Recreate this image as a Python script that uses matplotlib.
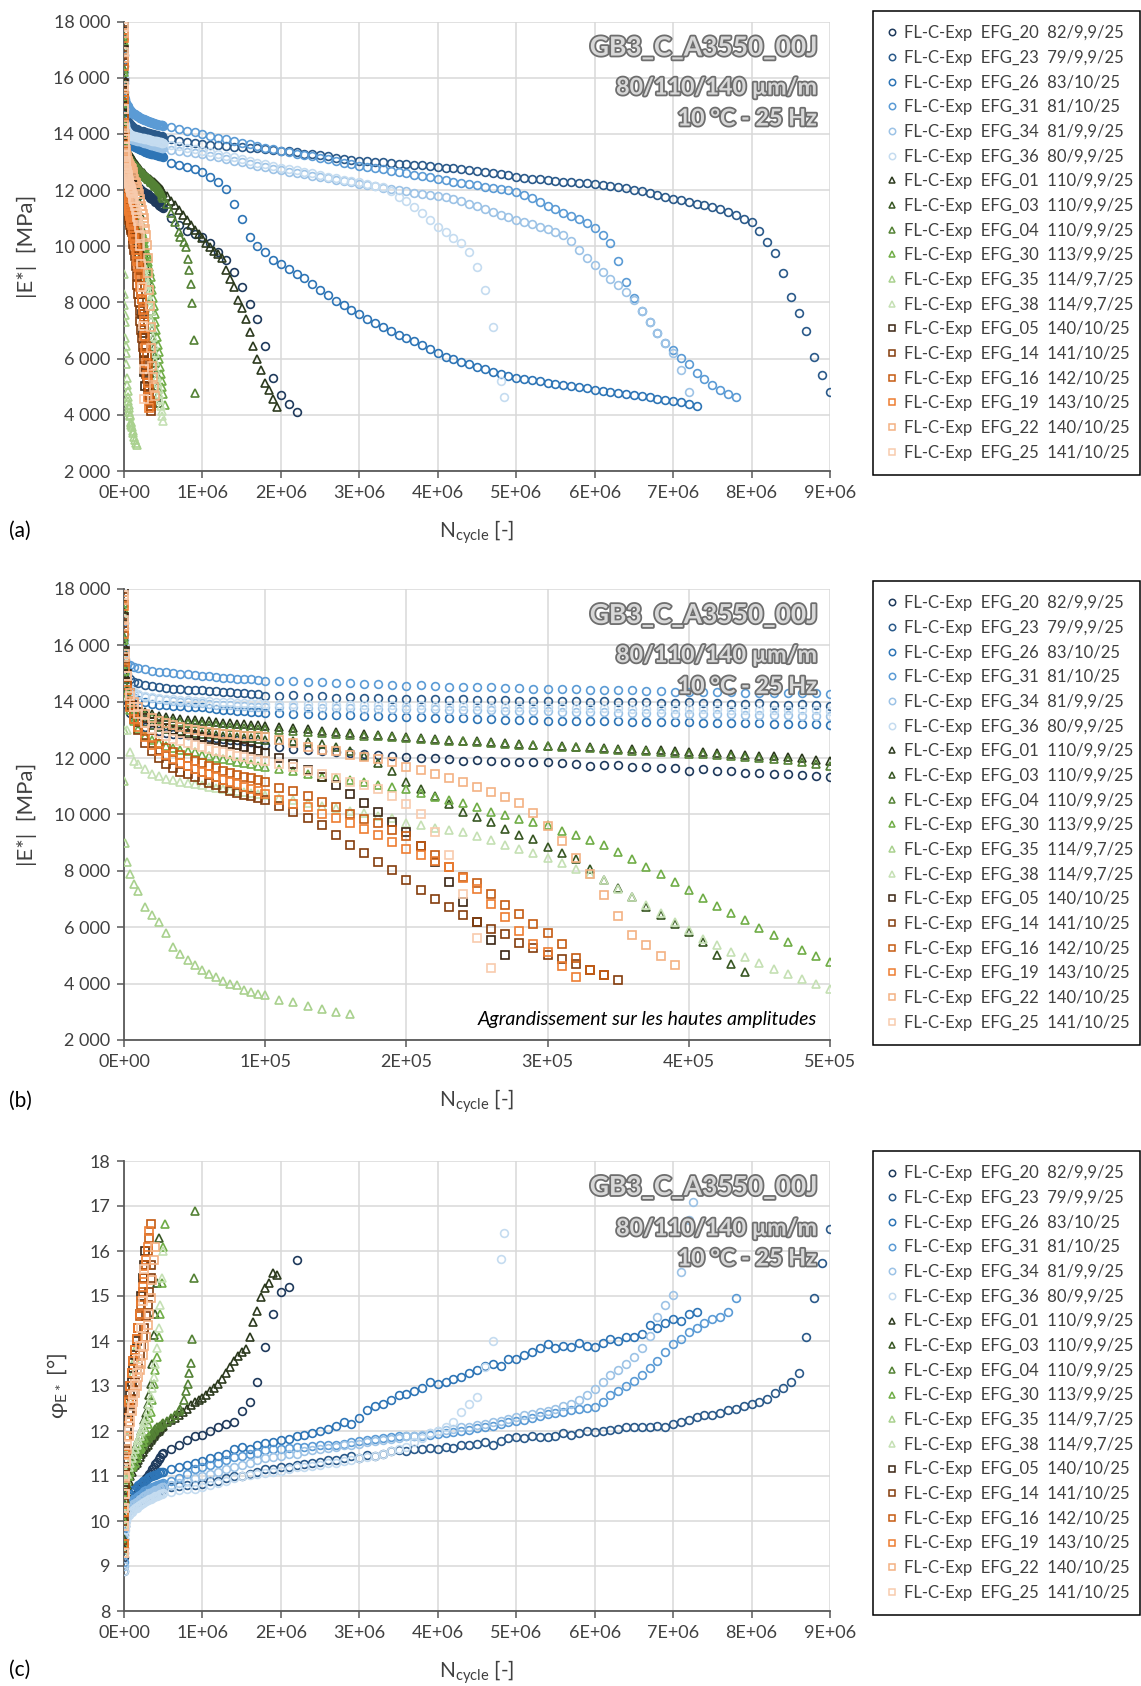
import sys
import matplotlib
matplotlib.use("Agg")
import matplotlib.pyplot as plt
import matplotlib.patheffects as pe
from matplotlib.lines import Line2D
from matplotlib.ticker import FuncFormatter, MultipleLocator

plt.rcParams['font.family'] = ['Lato', 'DejaVu Sans']
plt.rcParams['mathtext.fontset'] = 'custom'
plt.rcParams['mathtext.rm'] = 'Lato'
plt.rcParams['mathtext.it'] = 'Lato:italic'
plt.rcParams['mathtext.bf'] = 'Lato:bold'

# ---------------------------------------------------------------- grids (kilocycles)
N_EARLY = [0.1, 0.3, 1, 2, 4, 7, 10, 15, 20, 25, 30, 35, 40, 45, 50, 55, 60, 65, 70, 75, 80, 85, 90, 95, 100]
N_MID = [110, 120, 130, 140, 150, 160, 170, 180, 190, 200, 210, 220, 230, 240, 250, 260, 270, 280, 290, 300,
         310, 320, 330, 340, 350, 360, 370, 380, 390, 400, 410, 420, 430, 440, 450, 460, 470, 480, 490, 500]
N_LONG = [600, 700, 800, 900, 1000, 1100, 1200, 1300, 1400, 1500, 1600, 1700, 1800, 1900, 2000,
          2100, 2200, 2300, 2400, 2500, 2600, 2700, 2800, 2900, 3000, 3100, 3200, 3300, 3400, 3500,
          3600, 3700, 3800, 3900, 4000, 4100, 4200, 4300, 4400, 4500, 4600, 4700, 4800, 4900, 5000,
          5100, 5200, 5300, 5400, 5500, 5600, 5700, 5800, 5900, 6000, 6100, 6200, 6300, 6400, 6500,
          6600, 6700, 6800, 6900, 7000, 7100, 7200, 7300, 7400, 7500, 7600, 7700, 7800, 7900, 8000,
          8100, 8200, 8300, 8400, 8500, 8600, 8700, 8800, 8900, 9000]
N_TRI_LONG = [550, 600, 650, 700, 750, 800, 850, 900, 950, 1000, 1050, 1100, 1150, 1200, 1250, 1300,
              1350, 1400, 1450, 1500, 1550, 1600, 1650, 1700, 1750, 1800, 1850, 1900, 1950]
N_TAIL_04 = [550, 600, 650, 700, 720, 760, 790, 820, 830, 850, 870, 890, 910]
P_EARLY = [0.1, 1, 3, 7, 15, 25, 40, 60, 80, 100]
P_MID = [120, 140, 160, 180, 200, 220, 240, 260, 280, 300, 320, 340, 360, 380, 400, 420, 440, 460, 480, 500]


def upto(seq, last):
    return [v for v in seq if v <= last]


# ---------------------------------------------------------------- |E*| values (MPa)
E_20 = [16000, 15000, 14300, 13900, 13600, 13400, 13250, 13100, 13000, 12950, 12900, 12870, 12840, 12810, 12790,
        12760, 12740, 12710, 12690, 12660, 12630, 12600, 12560, 12520, 12450,
        12390, 12340, 12300, 12260, 12230, 12190, 12150, 12120, 12090, 12050, 12020, 12000, 11970, 11910, 11930,
        11900, 11880, 11870, 11860, 11850, 11820, 11800, 11730, 11760, 11740, 11680, 11700, 11660, 11640, 11560,
        11600, 11560, 11530, 11460, 11480, 11450, 11430, 11400, 11380, 11345,
        11000, 10750, 10560, 10430, 10320, 10100, 9800, 9520, 9100, 8550, 7950, 7400, 6440, 5320, 4700, 4380, 4100]
E_23 = [16400, 15900, 15300, 15000, 14800, 14700, 14650, 14600, 14560, 14520, 14500, 14470, 14450, 14430, 14410,
        14400, 14380, 14370, 14350, 14330, 14320, 14300, 14280, 14260, 14220,
        14200, 14230, 14180, 14190, 14150, 14160, 14120, 14140, 14100, 14090, 14110, 14080, 14070, 14090, 14060,
        14050, 14070, 14040, 14030, 14035, 14020, 14040, 14000, 14010, 13990, 13980, 14000, 13970, 13960, 13976,
        13950, 13960, 13930, 13920, 13940, 13900, 13890, 13910, 13880, 13860,
        13800, 13750, 13700, 13680, 13640, 13620, 13600, 13570, 13550, 13530, 13500, 13480, 13450, 13430, 13400,
        13380, 13350, 13300, 13280, 13250, 13200, 13150, 13120, 13080, 13050, 13030, 13000, 12990, 12960, 12940,
        12920, 12900, 12880, 12850, 12820, 12800, 12770, 12750, 12720, 12690, 12650, 12600, 12570, 12520, 12480,
        12440, 12400, 12380, 12350, 12330, 12300, 12280, 12260, 12240, 12210, 12180, 12140, 12100, 12060, 12020,
        11960, 11900, 11820, 11760, 11690, 11640, 11580, 11520, 11460, 11390, 11310, 11220, 11110, 10960, 10850,
        10550, 10150, 9750, 9050, 8200, 7620, 7000, 6050, 5400, 4810]
E_26 = [16800, 15800, 15000, 14600, 14300, 14150, 14050, 13980, 13930, 13900, 13870, 13850, 13840, 13820, 13810,
        13800, 13770, 13750, 13720, 13700, 13680, 13660, 13640, 13620, 13600,
        13590, 13570, 13560, 13540, 13530, 13520, 13500, 13490, 13470, 13445, 13450, 13430, 13420, 13410, 13400,
        13380, 13370, 13360, 13350, 13330, 13330, 13320, 13310, 13310, 13300, 13290, 13290, 13280, 13270, 13270,
        13260, 13260, 13250, 13240, 13230, 13220, 13220, 13210, 13200, 13190,
        12950, 12900, 12830, 12740, 12630, 12480, 12280, 12040, 11510, 10970, 10320, 10000, 9780, 9520, 9360,
        9180, 9020, 8870, 8650, 8450, 8260, 8060, 7900, 7730, 7580, 7420, 7270, 7130, 6980, 6850,
        6720, 6610, 6480, 6340, 6200, 6050, 5970, 5890, 5800, 5710, 5620, 5530, 5450, 5380, 5320,
        5280, 5230, 5190, 5150, 5110, 5060, 5020, 4980, 4940, 4900, 4860, 4820, 4790, 4750, 4710,
        4660, 4620, 4580, 4540, 4490, 4440, 4380, 4300]
E_31 = [16600, 15900, 15500, 15350, 15300, 15250, 15200, 15150, 15100, 15070, 15040, 15020, 15000, 14980, 14960,
        14930, 14900, 14880, 14860, 14840, 14820, 14800, 14790, 14770, 14750,
        14730, 14720, 14700, 14690, 14670, 14650, 14640, 14620, 14600, 14560, 14580, 14560, 14540, 14530, 14520,
        14510, 14500, 14490, 14470, 14450, 14450, 14440, 14430, 14420, 14410, 14400, 14390, 14380, 14360, 14340,
        14350, 14340, 14330, 14320, 14320, 14310, 14310, 14300, 14300, 14290,
        14230, 14170, 14110, 14050, 14000, 13930, 13870, 13810, 13740, 13690, 13630, 13570, 13510, 13450, 13400,
        13350, 13300, 13250, 13200, 13150, 13100, 13040, 12980, 12920, 12870, 12820, 12780, 12740, 12690, 12640,
        12590, 12550, 12500, 12450, 12400, 12350, 12300, 12260, 12210, 12170, 12120, 12080, 12030, 11990, 11930,
        11820, 11700, 11560, 11430, 11310, 11200, 11080, 10970, 10820, 10650, 10400, 10100, 9490, 8720, 8150,
        7680, 7300, 6900, 6560, 6290, 6040, 5800, 5500, 5260, 5060, 4890, 4740, 4630]
E_34 = [16200, 15500, 14900, 14600, 14400, 14300, 14230, 14170, 14120, 14080, 14050, 14020, 14000, 13980, 13960,
        13940, 13920, 13900, 13890, 13870, 13860, 13850, 13830, 13820, 13810,
        13800, 13800, 13790, 13780, 13780, 13770, 13760, 13760, 13750, 13740, 13740, 13730, 13720, 13710, 13700,
        13690, 13680, 13680, 13670, 13660, 13650, 13640, 13630, 13620, 13610, 13600, 13600, 13590, 13580, 13570,
        13560, 13560, 13550, 13540, 13530, 13530, 13520, 13510, 13510, 13500,
        13440, 13400, 13360, 13320, 13290, 13230, 13170, 13110, 13050, 12990, 12930, 12870, 12810, 12760, 12700,
        12650, 12600, 12560, 12510, 12460, 12420, 12370, 12320, 12270, 12220, 12180, 12130, 12080, 12040, 11990,
        11950, 11900, 11860, 11830, 11790, 11750, 11680, 11600, 11520, 11430, 11330, 11220, 11120, 11030, 10950,
        10870, 10790, 10700, 10600, 10500, 10400, 10200, 9850, 9580, 9330, 9080, 8830, 8610, 8370, 8070,
        7700, 7300, 6920, 6560, 6200, 5600, 4800]
E_36 = [16000, 15400, 14900, 14600, 14450, 14350, 14280, 14220, 14180, 14140, 14110, 14090, 14070, 14050, 14040,
        14020, 14010, 14000, 13990, 13980, 13970, 13960, 13950, 13940, 13930,
        13920, 13920, 13910, 13910, 13900, 13900, 13890, 13880, 13880, 13860, 13870, 13860, 13850, 13850, 13840,
        13830, 13830, 13820, 13810, 13800, 13800, 13790, 13780, 13780, 13770, 13760, 13760, 13750, 13740, 13740,
        13730, 13730, 13720, 13710, 13710, 13700, 13700, 13690, 13690, 13680,
        13620, 13560, 13500, 13450, 13400, 13340, 13280, 13220, 13160, 13100, 13040, 12980, 12920, 12860, 12800,
        12750, 12700, 12640, 12590, 12530, 12480, 12420, 12370, 12320, 12270, 12210, 12160, 12100, 11950, 11740,
        11600, 11400, 11170, 10920, 10680, 10500, 10280, 10100, 9780, 9250, 8430, 7120, 5220,
        4650]
E_01 = [17200, 16000, 15000, 14400, 14000, 13800, 13700, 13620, 13560, 13510, 13470, 13430, 13400, 13370, 13350,
        13320, 13300, 13280, 13260, 13240, 13220, 13200, 13180, 13160, 13140,
        13100, 13060, 13020, 12980, 12940, 12900, 12860, 12820, 12780, 12740, 12700, 12680, 12650, 12620, 12600,
        12570, 12540, 12510, 12470, 12440, 12440, 12410, 12400, 12370, 12330, 12330, 12300, 12280, 12250, 12210,
        12200, 12180, 12150, 12120, 12090, 12060, 12030, 11990, 11950, 11910,
        11780, 11620, 11460, 11280, 11100, 10920, 10740, 10580, 10440, 10300, 10120, 9980, 9830, 9720, 9580,
        9150, 8850, 8550, 8100, 7800, 7400, 6950, 6450, 5980, 5580, 5150, 4880, 4550, 4280]
E_03 = [17000, 15800, 14800, 14200, 13800, 13550, 13400, 13270, 13180, 13110, 13050, 13000, 12960, 12930, 12900,
        12870, 12840, 12810, 12790, 12760, 12740, 12720, 12700, 12680, 12660,
        12630, 12600, 12570, 12510, 12390, 12270, 12060, 11820, 11560, 11145, 10900, 10670, 10380, 10080, 9900,
        9730, 9490, 9255, 9115, 8840, 8640, 8430, 8075, 7690, 7380, 7070, 6720, 6425, 6130, 5835,
        5480, 5030, 4710, 4420]
E_04 = [17500, 16300, 15200, 14500, 14000, 13750, 13620, 13520, 13450, 13400, 13360, 13320, 13290, 13260, 13230,
        13200, 13180, 13160, 13140, 13120, 13100, 13080, 13060, 13040, 13020,
        12990, 12950, 12920, 12890, 12860, 12830, 12800, 12770, 12740, 12710, 12680, 12650, 12620, 12600, 12570,
        12540, 12510, 12480, 12460, 12430, 12400, 12380, 12350, 12320, 12300, 12270, 12250, 12220, 12190, 12160,
        12130, 12100, 12070, 12030, 12000, 11960, 11920, 11870, 11800, 11734,
        11500, 11200, 10850, 10500, 10320, 10150, 9970, 9550, 9140, 8640, 7990, 6650, 4780]
E_30 = [17300, 16200, 15100, 14300, 13700, 13300, 13050, 12800, 12650, 12530, 12440, 12370, 12300, 12250, 12200,
        12100, 12060, 12010, 11970, 11930, 11880, 11830, 11780, 11730, 11680,
        11620, 11560, 11440, 11330, 11300, 11220, 11140, 11060, 10980, 10900, 10750, 10613, 10520, 10400, 10250,
        10106, 9980, 9847, 9730, 9611, 9430, 9257, 9080, 8903, 8670, 8431, 8150, 7876, 7590, 7310,
        7030, 6755, 6500, 6250, 5980, 5717, 5460, 5210, 4980, 4750,
        4350]
E_35 = [13000, 11200, 9000, 8300, 7900, 7540, 7300, 6720, 6450, 6200, 5800, 5300, 5050, 4850, 4650,
        4500, 4350, 4230, 4110, 4000, 3940, 3760, 3700, 3640, 3580,
        3430, 3340, 3220, 3110, 2990, 2930]
E_38 = [17000, 15500, 14000, 13000, 12200, 11900, 11800, 11620, 11440, 11350, 11270, 11220, 11170, 11120, 11080,
        11030, 10990, 10950, 10910, 10870, 10830, 10800, 10760, 10720, 10680,
        10590, 10500, 10400, 10310, 10220, 10130, 10040, 9950, 9860, 9693, 9620, 9530, 9450, 9375, 9230,
        9080, 8930, 8785, 8620, 8454, 8270, 8077, 7880, 7680, 7370, 7080, 6779, 6500, 6200, 5900,
        5599, 5360, 5127, 4930, 4738, 4530, 4325, 4150, 3970, 3793]
E_05 = [17900, 17000, 15800, 15000, 14300, 13900, 13650, 13420, 13280, 13170, 13080, 13000, 12930, 12870, 12810,
        12750, 12690, 12630, 12570, 12510, 12450, 12390, 12330, 12260, 12190,
        12000, 11780, 11590, 11320, 11050, 10730, 10420, 10090, 9730, 9380, 8870, 8300, 7605, 6897, 6190,
        5540, 5010]
E_14 = [17700, 16800, 15500, 14600, 13900, 13400, 13000, 12550, 12250, 12000, 11800, 11650, 11520, 11440, 11330,
        11230, 11130, 11030, 10940, 10850, 10770, 10700, 10640, 10580, 10520,
        10290, 10090, 9870, 9640, 9280, 8930, 8630, 8310, 8020, 7690, 7330, 7010, 6720, 6425, 6190,
        5953, 5752, 5457, 5268, 5032, 4890, 4713, 4500, 4300, 4123]
E_16 = [17600, 16600, 15400, 14600, 14000, 13600, 13300, 12950, 12700, 12500, 12350, 12220, 12100, 12000, 11900,
        11810, 11720, 11640, 11560, 11480, 11410, 11340, 11280, 11210, 11150,
        10940, 10820, 10640, 10440, 10260, 10000, 9850, 9705, 9457, 9221, 8867, 8548, 8135, 7781, 7581,
        7191, 6802, 6460, 6130, 5799, 5421, 4914, 4501, 4300]
E_19 = [17400, 16400, 15200, 14400, 13800, 13400, 13100, 12750, 12480, 12270, 12100, 11960, 11830, 11720, 11620,
        11520, 11420, 11330, 11240, 11150, 11070, 10990, 10900, 10820, 10740,
        10520, 10380, 10260, 10030, 9870, 9710, 9480, 9256, 9020, 8784, 8548, 8340, 8135, 7740, 7345,
        6814, 6365, 5858, 5421, 5126, 4631, 4241]
E_22 = [17600, 16700, 15600, 14900, 14300, 14000, 13800, 13580, 13430, 13320, 13230, 13160, 13100, 13050, 13000,
        12960, 12920, 12890, 12860, 12840, 12820, 12800, 12780, 12770, 12750,
        12630, 12530, 12400, 12300, 12250, 12100, 12035, 11975, 11860, 11675, 11581, 11440, 11286, 11144, 10991,
        10814, 10613, 10401, 10059, 9587, 9044, 8454, 7876, 7132, 6389, 5740, 5362, 4973, 4678]
E_25 = [17800, 16900, 15700, 14900, 14200, 13800, 13550, 13250, 13050, 12900, 12780, 12680, 12600, 12520, 12450,
        12380, 12320, 12260, 12200, 12140, 12080, 12030, 11980, 11940, 11900,
        11800, 11680, 11560, 11430, 11300, 11170, 11040, 10900, 10672, 10377, 10000, 9374, 8548, 7168, 5622,
        4560]

# ---------------------------------------------------------------- phase angle values (deg)
P_20 = [9.2, 9.6, 9.8, 9.95, 10.05, 10.15, 10.25, 10.32, 10.4, 10.45,
        10.5, 10.55, 10.6, 10.65, 10.72, 10.78, 10.85, 10.9, 10.95, 11.0, 11.05, 11.1, 11.15, 11.2, 11.27,
        11.32, 11.38, 11.42, 11.48, 11.52,
        11.6, 11.7, 11.8, 11.88, 11.92, 12.0, 12.08, 12.15, 12.2, 12.45, 12.65, 13.1, 13.87, 14.6, 15.1, 15.21, 15.81]
P_23 = [8.9, 9.4, 9.7, 9.9, 10.0, 10.1, 10.2, 10.25, 10.3, 10.35,
        10.38, 10.4, 10.42, 10.45, 10.47, 10.5, 10.5, 10.52, 10.55, 10.57, 10.58, 10.6, 10.6, 10.62, 10.65,
        10.65, 10.67, 10.7, 10.7, 10.72,
        10.75, 10.78, 10.8, 10.8, 10.82, 10.9, 10.9, 10.95, 11.0, 11.0, 11.05, 11.1, 11.15, 11.15, 11.2,
        11.2, 11.25, 11.27, 11.3, 11.32, 11.35, 11.35, 11.4, 11.45, 11.4, 11.46, 11.45, 11.5, 11.55, 11.58,
        11.55, 11.6, 11.6, 11.62, 11.6, 11.65, 11.63, 11.7, 11.68, 11.72, 11.75, 11.7, 11.78, 11.85, 11.86,
        11.85, 11.9, 11.87, 11.87, 11.88, 11.95, 11.92, 11.95, 12.0, 11.97, 12.0, 12.02, 12.05, 12.08, 12.08,
        12.1, 12.1, 12.12, 12.1, 12.16, 12.2, 12.25, 12.31, 12.35, 12.35, 12.4, 12.47, 12.5, 12.55, 12.6,
        12.65, 12.72, 12.85, 12.95, 13.1, 13.3, 14.09, 14.96, 15.74, 16.5]
P_26 = [9.3, 9.8, 10.05, 10.2, 10.3, 10.4, 10.5, 10.55, 10.6, 10.65,
        10.7, 10.72, 10.75, 10.8, 10.82, 10.85, 10.88, 10.9, 10.92, 10.95, 10.97, 11.0, 11.0, 11.02, 11.03,
        11.05, 11.07, 11.08, 11.1, 11.1,
        11.15, 11.2, 11.25, 11.3, 11.34, 11.4, 11.45, 11.5, 11.6, 11.65, 11.6, 11.7, 11.73, 11.75, 11.8,
        11.82, 11.89, 11.92, 11.95, 12.0, 12.05, 12.12, 12.2, 12.15, 12.3, 12.47, 12.55, 12.6, 12.7, 12.8,
        12.83, 12.9, 12.95, 13.09, 13.05, 13.1, 13.15, 13.2, 13.3, 13.35, 13.45, 13.5, 13.45, 13.6, 13.6,
        13.7, 13.75, 13.85, 13.94, 13.85, 13.9, 13.86, 13.95, 13.9, 13.86, 13.95, 14.05, 14.0, 14.08, 14.09,
        14.15, 14.35, 14.3, 14.4, 14.5, 14.45, 14.6, 14.64]
P_31 = [9.1, 9.6, 9.85, 10.0, 10.1, 10.2, 10.28, 10.34, 10.4, 10.45,
        10.48, 10.5, 10.53, 10.56, 10.58, 10.6, 10.63, 10.66, 10.68, 10.7, 10.72, 10.73, 10.75, 10.76, 10.78,
        10.8, 10.8, 10.82, 10.83, 10.85,
        10.9, 10.95, 11.05, 11.15, 11.19, 11.25, 11.3, 11.35, 11.42, 11.45, 11.5, 11.52, 11.58, 11.6, 11.6,
        11.63, 11.65, 11.65, 11.67, 11.68, 11.7, 11.69, 11.72, 11.75, 11.78, 11.81, 11.83, 11.85, 11.87, 11.89,
        11.88, 11.9, 11.9, 11.92, 11.93, 11.95, 11.98, 12.0, 12.03, 12.06, 12.08, 12.12, 12.15, 12.2, 12.23,
        12.25, 12.28, 12.33, 12.38, 12.4, 12.43, 12.47, 12.5, 12.52, 12.53, 12.65, 12.8, 12.9, 13.0, 13.12,
        13.25, 13.4, 13.55, 13.75, 13.94, 14.05, 14.2, 14.3, 14.4, 14.48, 14.53, 14.65, 14.96]
P_34 = [9.0, 9.5, 9.75, 9.9, 10.0, 10.1, 10.18, 10.25, 10.3, 10.34,
        10.37, 10.4, 10.43, 10.45, 10.48, 10.5, 10.53, 10.55, 10.57, 10.6, 10.62, 10.63, 10.65, 10.67, 10.68,
        10.7, 10.72, 10.73, 10.75, 10.76,
        10.8, 10.85, 10.9, 10.95, 11.0, 11.05, 11.1, 11.15, 11.2, 11.25, 11.3, 11.35, 11.4, 11.42, 11.45,
        11.48, 11.5, 11.55, 11.58, 11.6, 11.63, 11.65, 11.68, 11.7, 11.72, 11.75, 11.78, 11.8, 11.82, 11.85,
        11.88, 11.9, 11.92, 11.95, 12.0, 12.02, 12.05, 12.08, 12.1, 12.13, 12.16, 12.2, 12.22, 12.27, 12.31,
        12.35, 12.38, 12.42, 12.45, 12.5, 12.55, 12.6, 12.7, 12.8, 12.94, 13.1, 13.25, 13.35, 13.5, 13.64,
        13.85, 14.12, 14.53, 14.8, 15.02, 15.54, 16.69,
        17.08]
P_36 = [8.9, 9.4, 9.65, 9.8, 9.9, 10.0, 10.08, 10.13, 10.18, 10.2,
        10.25, 10.28, 10.3, 10.33, 10.36, 10.38, 10.4, 10.42, 10.44, 10.46, 10.48, 10.5, 10.52, 10.53, 10.55,
        10.56, 10.58, 10.6, 10.6, 10.62,
        10.65, 10.7, 10.72, 10.72, 10.75, 10.8, 10.85, 10.9, 10.96, 11.0, 11.02, 11.05, 11.07, 11.1, 11.12,
        11.15, 11.19, 11.2, 11.22, 11.25, 11.28, 11.3, 11.33, 11.36, 11.4, 11.42, 11.45, 11.5, 11.55, 11.6,
        11.65, 11.75, 11.85, 11.95, 12.0, 12.1, 12.2, 12.42, 12.6, 12.75, 13.42, 14.01, 15.83,
        16.39]
P_01 = [9.4, 9.9, 10.1, 10.3, 10.5, 10.65, 10.8, 10.9, 11.0, 11.1,
        11.2, 11.25, 11.3, 11.36, 11.42, 11.48, 11.54, 11.6, 11.65, 11.7, 11.75, 11.8, 11.85, 11.89, 11.93,
        11.97, 12.0, 12.04, 12.08, 12.12,
        12.2, 12.24, 12.3, 12.35, 12.42, 12.5, 12.58, 12.65, 12.7, 12.74, 12.8, 12.89, 12.95, 13.05, 13.15,
        13.3, 13.43, 13.55, 13.67, 13.75, 13.82, 14.09, 14.42, 14.67, 14.98, 15.17, 15.29, 15.52, 15.46]
P_03 = [9.6, 10.1, 10.4, 10.6, 10.8, 10.95, 11.1, 11.2, 11.3, 11.4,
        11.55, 11.62, 11.7, 11.8, 11.89, 12.0, 12.1, 12.25, 12.4, 12.6, 12.8, 13.05, 13.5, 14.13, 14.6,
        15.3, 16.3]
P_04 = [9.5, 10.0, 10.3, 10.5, 10.7, 10.85, 11.0, 11.1, 11.2, 11.28,
        11.35, 11.42, 11.48, 11.55, 11.6, 11.65, 11.7, 11.75, 11.8, 11.84, 11.88, 11.92, 11.96, 12.0, 12.04,
        12.08, 12.1, 12.12, 12.15, 12.18,
        12.22, 12.28, 12.35, 12.45, 12.5, 12.7, 12.89, 13.05, 13.3, 13.51, 14.05, 15.41, 16.88]
P_30 = [9.5, 10.0, 10.3, 10.5, 10.65, 10.8, 10.9, 11.0, 11.1, 11.2,
        11.25, 11.3, 11.4, 11.5, 11.6, 11.65, 11.75, 11.85, 12.0, 12.15, 12.3, 12.43, 12.7, 13.05, 13.35,
        13.65, 14.1, 14.6, 15.3, 16.1,
        16.6]
P_35 = [9.3, 9.9, 10.3, 10.7, 11.1, 11.5, 11.9, 12.3, 12.7, 13.0,
        13.3, 13.6, 13.9]
P_38 = [9.3, 9.9, 10.2, 10.45, 10.7, 10.9, 11.05, 11.2, 11.3, 11.4,
        11.5, 11.6, 11.7, 11.8, 11.9, 12.0, 12.1, 12.2, 12.3, 12.45, 12.6, 12.75, 12.95, 13.2, 13.5,
        13.85, 14.3, 14.8, 15.4, 16.0]
P_05 = [9.3, 9.9, 10.3, 10.7, 11.2, 11.6, 12.0, 12.4, 12.8, 13.1,
        13.4, 13.7, 14.0, 14.3, 14.6, 15.0, 15.4, 15.7,
        16.0]
P_14 = [9.4, 10.0, 10.4, 10.8, 11.2, 11.55, 11.9, 12.2, 12.45, 12.7,
        12.9, 13.1, 13.3, 13.5, 13.7, 13.9, 14.1, 14.3, 14.55, 14.8, 15.1, 15.4,
        15.7]
P_16 = [9.5, 10.2, 10.6, 11.0, 11.5, 11.9, 12.3, 12.7, 13.0, 13.3,
        13.55, 13.8, 14.05, 14.3, 14.55, 14.8, 15.1, 15.4, 15.7, 16.0, 16.3, 16.6]
P_19 = [9.5, 10.2, 10.6, 11.0, 11.5, 11.9, 12.3, 12.65, 13.0, 13.3,
        13.55, 13.8, 14.05, 14.3, 14.6, 14.9, 15.2, 15.5, 15.8, 16.1, 16.45]
P_22 = [9.3, 9.9, 10.3, 10.6, 10.95, 11.3, 11.6, 11.9, 12.2, 12.45,
        12.65, 12.85, 13.0, 13.2, 13.35, 13.5, 13.7, 13.9, 14.1, 14.35, 14.6, 14.95, 15.35, 15.8,
        16.1]
P_25 = [9.3, 9.9, 10.3, 10.6, 11.0, 11.35, 11.7, 12.0, 12.3, 12.55,
        12.8, 13.05, 13.3, 13.6, 13.9, 14.3, 14.9, 15.6]

# ---------------------------------------------------------------- series definition
LABELS = ['FL-C-Exp  EFG_20  82/9,9/25', 'FL-C-Exp  EFG_23  79/9,9/25', 'FL-C-Exp  EFG_26  83/10/25',
          'FL-C-Exp  EFG_31  81/10/25', 'FL-C-Exp  EFG_34  81/9,9/25', 'FL-C-Exp  EFG_36  80/9,9/25',
          'FL-C-Exp  EFG_01  110/9,9/25', 'FL-C-Exp  EFG_03  110/9,9/25', 'FL-C-Exp  EFG_04  110/9,9/25',
          'FL-C-Exp  EFG_30  113/9,9/25', 'FL-C-Exp  EFG_35  114/9,7/25', 'FL-C-Exp  EFG_38  114/9,7/25',
          'FL-C-Exp  EFG_05  140/10/25', 'FL-C-Exp  EFG_14  141/10/25', 'FL-C-Exp  EFG_16  142/10/25',
          'FL-C-Exp  EFG_19  143/10/25', 'FL-C-Exp  EFG_22  140/10/25', 'FL-C-Exp  EFG_25  141/10/25']
MARKERS = ['o'] * 6 + ['^'] * 6 + ['s'] * 6
COLORS = ['#1F3A5C', '#2B5A8A', '#2E75B6', '#5B9BD5', '#9DC3E6', '#C5DCF0',
          '#2C3A1E', '#385723', '#548235', '#70AD47', '#A9D18E', '#C5E0B4',
          '#3A2412', '#843C0C', '#C55A11', '#ED7D31', '#F4B183', '#F8CBAD']

E_VALUES = [E_20, E_23, E_26, E_31, E_34, E_36, E_01, E_03, E_04, E_30, E_35, E_38,
            E_05, E_14, E_16, E_19, E_22, E_25]
E_CYCLES = [N_EARLY + N_MID + upto(N_LONG, 2200),
            N_EARLY + N_MID + N_LONG,
            N_EARLY + N_MID + upto(N_LONG, 7300),
            N_EARLY + N_MID + upto(N_LONG, 7800),
            N_EARLY + N_MID + upto(N_LONG, 7200),
            N_EARLY + N_MID + upto(N_LONG, 4800) + [4850],
            N_EARLY + N_MID + N_TRI_LONG,
            N_EARLY + upto(N_MID, 440),
            N_EARLY + N_MID + N_TAIL_04,
            N_EARLY + N_MID + [520],
            N_EARLY + upto(N_MID, 160),
            N_EARLY + N_MID,
            N_EARLY + upto(N_MID, 270),
            N_EARLY + upto(N_MID, 350),
            N_EARLY + upto(N_MID, 340),
            N_EARLY + upto(N_MID, 320),
            N_EARLY + upto(N_MID, 390),
            N_EARLY + upto(N_MID, 260)]
P_VALUES = [P_20, P_23, P_26, P_31, P_34, P_36, P_01, P_03, P_04, P_30, P_35, P_38,
            P_05, P_14, P_16, P_19, P_22, P_25]
P_CYCLES = [P_EARLY + P_MID + upto(N_LONG, 2200),
            P_EARLY + P_MID + N_LONG,
            P_EARLY + P_MID + upto(N_LONG, 7300),
            P_EARLY + P_MID + upto(N_LONG, 7800),
            P_EARLY + P_MID + upto(N_LONG, 7200) + [7250],
            P_EARLY + P_MID + upto(N_LONG, 4800) + [4850],
            P_EARLY + P_MID + N_TRI_LONG,
            P_EARLY + upto(P_MID, 440),
            P_EARLY + P_MID + N_TAIL_04,
            P_EARLY + P_MID + [520],
            P_EARLY + upto(P_MID, 160),
            P_EARLY + P_MID,
            P_EARLY + upto(P_MID, 260) + [270],
            P_EARLY + upto(P_MID, 340) + [350],
            P_EARLY + upto(P_MID, 340),
            P_EARLY + upto(P_MID, 320),
            P_EARLY + upto(P_MID, 380) + [390],
            P_EARLY + upto(P_MID, 260)]


def paired(cyc_k, vals, tag):
    m = min(len(cyc_k), len(vals))
    if len(cyc_k) != len(vals):
        print(f"length mismatch {tag}: {len(cyc_k)} vs {len(vals)}", file=sys.stderr)
    return [c * 1000.0 for c in cyc_k[:m]], vals[:m]


# ---------------------------------------------------------------- figure
W, H = 1141, 1686
fig = plt.figure(figsize=(W / 100, H / 100), dpi=100)

AX_L, AX_R = 124, 830
PANELS = [(21.5, 471), (589, 1040), (1161, 1611)]
LEG = [(11, 473), (581, 1043), (1151, 1613)]
LEG_L, LEG_R = 873, 1140

TXT = '#404040'
AXC = '#595959'


def make_ax(top, bot):
    return fig.add_axes([AX_L / W, 1 - bot / H, (AX_R - AX_L) / W, (bot - top) / H])


def style(ax):
    for s in ['top', 'right']:
        ax.spines[s].set_visible(False)
    for s in ['left', 'bottom']:
        ax.spines[s].set_color(AXC)
        ax.spines[s].set_linewidth(1.3)
    ax.grid(True, color='#D9D9D9', lw=1.1)
    ax.set_axisbelow(True)
    ax.tick_params(direction='out', length=5, width=1.1, color=AXC, labelsize=13,
                   labelcolor=TXT, pad=5)


def sci_fmt(v, pos):
    return format(v, '.0E')


def thousand_fmt(v, pos):
    return f"{int(round(v)):,}".replace(",", " ")


def title_block(ax, ys=(0.942, 0.852, 0.783)):
    eff = [pe.withStroke(linewidth=2.6, foreground='#6E6E6E')]
    for txt, y, fs in zip(['GB3_C_A3550_00J', '80/110/140 µm/m', '10 °C - 25 Hz'], ys, [19, 16.8, 16.8]):
        ax.text(0.982, y, txt, transform=ax.transAxes, ha='right', va='center', fontsize=fs,
                fontweight='bold', color='#D8D8D8', path_effects=eff, zorder=5)


def draw(ax, which):
    for i in range(18):
        if which == 'E':
            x, y = paired(E_CYCLES[i], E_VALUES[i], LABELS[i])
        else:
            x, y = paired(P_CYCLES[i], P_VALUES[i], LABELS[i])
        ms = 5.6 if MARKERS[i] == 'o' else (6.0 if MARKERS[i] == '^' else 5.6)
        ax.plot(x, y, ls='none', marker=MARKERS[i], ms=ms, mfc='none', mec=COLORS[i], mew=1.2,
                zorder=3 + i * 0.01)


def legend(ax, top, bot):
    handles = [Line2D([], [], ls='none', marker=MARKERS[i], ms=4.6, mfc='none', mec=COLORS[i], mew=1.1)
               for i in range(18)]
    leg = ax.legend(handles, LABELS, loc='upper left',
                    bbox_to_anchor=(LEG_L / W, 1 - bot / H, (LEG_R - LEG_L) / W, (bot - top) / H),
                    bbox_transform=fig.transFigure, mode='expand', borderaxespad=0,
                    fontsize=12.0, frameon=True, fancybox=False, framealpha=1, edgecolor='black',
                    handlelength=0.55, handletextpad=0.42, labelspacing=0.52, borderpad=0.86)
    leg.get_frame().set_linewidth(1.1)
    for t in leg.get_texts():
        t.set_color(TXT)
    return leg


xlab = 'N$_{\\mathregular{cycle}}$ [-]'

# ---- (a)
axa = make_ax(*PANELS[0])
style(axa)
draw(axa, 'E')
axa.set_xlim(0, 9e6)
axa.set_ylim(2000, 18000)
axa.xaxis.set_major_locator(MultipleLocator(1e6))
axa.yaxis.set_major_locator(MultipleLocator(2000))
axa.xaxis.set_major_formatter(FuncFormatter(sci_fmt))
axa.yaxis.set_major_formatter(FuncFormatter(thousand_fmt))
title_block(axa)
legend(axa, *LEG[0])

# ---- (b)
axb = make_ax(*PANELS[1])
style(axb)
draw(axb, 'E')
axb.set_xlim(0, 5e5)
axb.set_ylim(2000, 18000)
axb.xaxis.set_major_locator(MultipleLocator(1e5))
axb.yaxis.set_major_locator(MultipleLocator(2000))
axb.xaxis.set_major_formatter(FuncFormatter(sci_fmt))
axb.yaxis.set_major_formatter(FuncFormatter(thousand_fmt))
title_block(axb)
axb.text(0.981, 0.046, 'Agrandissement sur les hautes amplitudes', transform=axb.transAxes,
         ha='right', va='center', fontsize=14, style='italic', color='black', zorder=6)
legend(axb, *LEG[1])

# ---- (c)
axc = make_ax(*PANELS[2])
style(axc)
draw(axc, 'P')
axc.set_xlim(0, 9e6)
axc.set_ylim(8, 18)
axc.xaxis.set_major_locator(MultipleLocator(1e6))
axc.yaxis.set_major_locator(MultipleLocator(1))
axc.xaxis.set_major_formatter(FuncFormatter(sci_fmt))
axc.yaxis.set_major_formatter(FuncFormatter(lambda v, p: f"{int(round(v))}"))
title_block(axc, ys=(0.942, 0.849, 0.782))
legend(axc, *LEG[2])

# ---- axis labels
for ax, (top, bot), ylab, ylx in [(axa, PANELS[0], '|E*|  [MPa]', 27),
                                   (axb, PANELS[1], '|E*|  [MPa]', 27),
                                   (axc, PANELS[2], 'φ$_{\\mathregular{E*}}$ [°]', 57)]:
    hpx = bot - top
    ax.set_xlabel(xlab, fontsize=15, color=TXT)
    ax.xaxis.set_label_coords(0.5, -61 / hpx)
    ax.xaxis.label.set_va('center')
    ax.set_ylabel(ylab, fontsize=16, color=TXT)
    ax.yaxis.set_label_coords(-(AX_L - ylx) / (AX_R - AX_L), 0.5)
    ax.yaxis.label.set_va('center')

for lab, ypx in [('(a)', 531), ('(b)', 1101), ('(c)', 1670)]:
    fig.text(9 / W, 1 - ypx / H, lab, fontsize=15, color='black', ha='left', va='center')

fig.savefig('out.png', dpi=100)
